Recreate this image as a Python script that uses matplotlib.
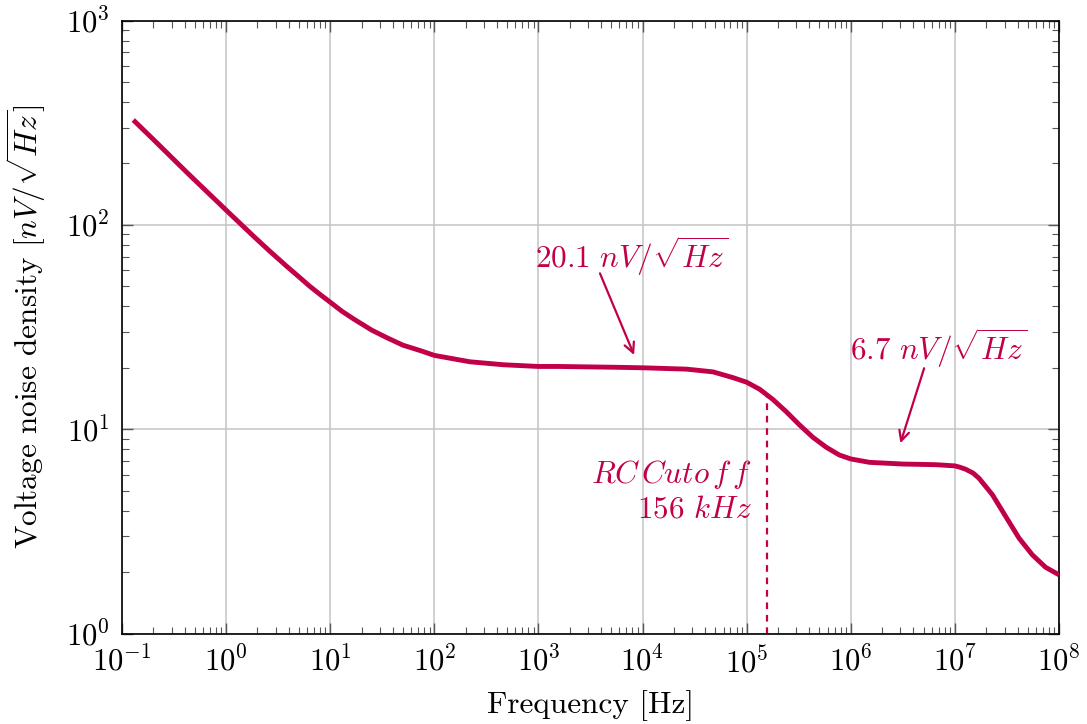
import numpy as np
import matplotlib
matplotlib.use("Agg")
import matplotlib.pyplot as plt
from matplotlib.ticker import LogLocator, NullFormatter

plt.rcParams["font.family"] = "serif"
plt.rcParams["font.serif"] = ["cmr10", "DejaVu Serif"]
plt.rcParams["mathtext.fontset"] = "cm"
plt.rcParams["axes.formatter.use_mathtext"] = True

# Noise density curve, Hz -> nV/sqrt(Hz)
freq = [0.1285, 0.2028, 0.4227, 1.0, 1.841, 2.6, 3.846, 5.0, 6.31, 8.0, 10.0,
        13.0, 16.75, 25.0, 34.91, 50.0, 72.94, 100.0, 219.8, 458.1, 1.0e3,
        1.6e3, 6.067e3, 1.0e4, 2.642e4, 4.753e4, 7.396e4, 1.0e5, 1.334e5,
        1.786e5, 2.399e5, 3.221e5, 4.325e5, 5.808e5, 7.78e5, 1.0e6, 1.51e6,
        3.148e6, 6.577e6, 1.0e7, 1.12e7, 1.274e7, 1.5e7, 1.71e7, 2.296e7,
        3.083e7, 4.14e7, 5.546e7, 7.447e7, 1.0e8]
noise = [326.6, 260.6, 180.3, 118.3, 88.0, 74.8, 62.6, 55.8, 50.3, 45.7, 41.9,
         37.8, 34.7, 30.6, 28.1, 25.8, 24.3, 23.0, 21.4, 20.7, 20.3,
         20.3, 20.1, 20.0, 19.7, 19.1, 17.9, 17.0, 15.7,
         14.0, 12.2, 10.5, 9.14, 8.17, 7.48, 7.16, 6.89,
         6.76, 6.71, 6.62, 6.52, 6.37, 6.10, 5.75, 4.78,
         3.74, 2.93, 2.43, 2.11, 1.94]

cutoff_hz = 1.56e5
cutoff_noise = 14.8
level_low = 20.1
level_high = 6.7

RED = "#C2004A"

fig = plt.figure(figsize=(10.87, 7.24), dpi=100)
ax = fig.add_axes([0.1122, 0.1249, 0.8620, 0.8465])

ax.plot(freq, noise, color=RED, lw=3.5, solid_capstyle="butt",
        solid_joinstyle="round", zorder=3)
ax.vlines(cutoff_hz, 1, cutoff_noise, colors=RED, lw=1.6,
          linestyles=(0, (3, 2.6)), zorder=2)

ax.set_xscale("log")
ax.set_yscale("log")
ax.set_xlim(1e-1, 1e8)
ax.set_ylim(1e0, 1e3)

ax.xaxis.set_major_locator(LogLocator(base=10, numticks=20))
ax.xaxis.set_minor_locator(LogLocator(base=10, subs=np.arange(2, 10), numticks=200))
ax.yaxis.set_minor_locator(LogLocator(base=10, subs=np.arange(2, 10), numticks=200))
ax.xaxis.set_minor_formatter(NullFormatter())
ax.yaxis.set_minor_formatter(NullFormatter())

ax.grid(True, which="major", color="#c8c8c8", lw=1.2)
ax.set_axisbelow(True)
ax.tick_params(which="both", direction="in", top=True, right=True,
               color="#555555", labelsize=22, pad=9)
ax.tick_params(which="major", length=8, width=1.0)
ax.tick_params(which="minor", length=4.8, width=0.8)
for s in ax.spines.values():
    s.set_linewidth(1.2)

ax.set_xlabel("Frequency [Hz]", fontsize=22.5)
ax.set_ylabel(r"Voltage noise density $[nV/\sqrt{Hz}]$", fontsize=22.5)
ax.xaxis.set_label_coords(0.5, -0.092)
ax.yaxis.set_label_coords(-0.079, 0.5)

# annotations
ax.text(7.9e3, 61.7, r"$%.1f\ nV/\sqrt{Hz}$" % level_low, color=RED,
        fontsize=22.5, ha="center", va="baseline")
ax.annotate("", xy=(8.3e3, 23.1), xytext=(3.9e3, 58),
            arrowprops=dict(arrowstyle="->", color=RED, lw=1.6,
                            shrinkA=0, shrinkB=0, mutation_scale=18))

ax.text(7.0e6, 21.8, r"$%.1f\ nV/\sqrt{Hz}$" % level_high, color=RED,
        fontsize=22.5, ha="center", va="baseline")
ax.annotate("", xy=(3.0e6, 8.55), xytext=(5.07e6, 19.9),
            arrowprops=dict(arrowstyle="->", color=RED, lw=1.6,
                            shrinkA=0, shrinkB=0, mutation_scale=18))

ax.text(1.125e5, 5.46, r"$RC\,Cuto\,f\,f$", color=RED, fontsize=22.5,
        ha="right", va="baseline")
ax.text(1.125e5, 3.68, r"$156\ kHz$", color=RED, fontsize=22.5,
        ha="right", va="baseline")

fig.savefig("out.png", dpi=100, facecolor="white")
